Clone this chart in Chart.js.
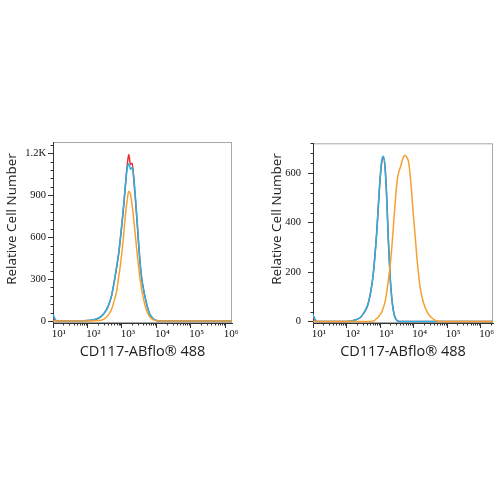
<!DOCTYPE html>
<html>
<head>
<meta charset="utf-8">
<script src="https://cdn.jsdelivr.net/npm/chart.js@4.4.0/dist/chart.umd.min.js"></script>
<style>
  body { margin: 0; background: #fff; }
  .panel { position: absolute; top: 130px; width: 250px; height: 240px; }
</style>
</head>
<body>
<div class="panel" style="left:0"><canvas id="leftChart" width="250" height="240"></canvas></div>
<div class="panel" style="left:250px"><canvas id="rightChart" width="250" height="240"></canvas></div>
<script>
// x axis decades
const decadeValues = [10, 100, 1000, 10000, 100000, 1000000];
const decadeLabels = ['10¹', '10²', '10³', '10⁴', '10⁵', '10⁶'];

// left panel
const leftBins = [10, 13, 32, 100, 158, 200, 251, 316, 398, 501, 631, 708, 794, 891, 1000, 1122, 1259, 1413, 1585, 1778,
    1995, 2239, 2512, 2818, 3162, 3548, 3981, 5012, 6310, 7943, 10000, 15849, 100000, 1000000, 1580000];
const leftRed = [20, 0, 0, 4, 10, 18, 33, 60, 105, 180, 312, 388, 468, 572, 690, 815, 960, 1100, 1190, 1120,
    1128, 1000, 850, 685, 505, 360, 265, 142, 55, 18, 4, 0, 0, 0, 0];
const leftCyan = [45, 0, 0, 3, 10, 18, 33, 60, 105, 180, 315, 390, 470, 575, 695, 820, 965, 1085, 1125, 1085,
    1098, 1020, 860, 688, 505, 360, 265, 142, 55, 18, 4, 0, 0, 0, 0];
const leftOrange = [0, 0, 0, 0, 2, 3, 6, 18, 40, 82, 165, 215, 300, 385, 490, 610, 750, 855, 928, 905,
    825, 712, 590, 470, 360, 265, 190, 88, 33, 10, 3, 0, 0, 0, 0];
const leftYValues = [0, 300, 600, 900, 1200];
const leftYLabels = ['0', '300', '600', '900', '1.2K'];

// right panel
const rightBins = [10, 13, 50, 100, 141, 200, 251, 316, 398, 447, 501, 562, 631, 708, 794, 891, 1000, 1122, 1259, 1413,
    1585, 1778, 1995, 2239, 2512, 2818, 3162, 3548, 3981, 4467, 5012, 5623, 6310, 7079, 7943, 8913, 10000, 11220,
    12589, 14125, 15849, 17783, 19953, 25119, 31623, 39811, 50119, 63096, 100000, 1000000, 2340000];
const rightRed = [15, 0, 0, 0, 2, 8, 15, 31, 55, 75, 105, 143, 195, 270, 358, 468, 570, 642, 662, 625,
    500, 325, 182, 95, 42, 16, 5, 1, 0, 0, 0, 0, 0, 0, 0, 0, 0, 0,
    0, 0, 0, 0, 0, 0, 0, 0, 0, 0, 0, 0, 0];
const rightCyan = [28, 0, 0, 0, 2, 8, 15, 31, 55, 75, 105, 143, 195, 270, 358, 468, 578, 650, 668, 618,
    490, 318, 182, 95, 42, 16, 5, 1, 0, 0, 0, 0, 0, 0, 0, 0, 0, 0,
    0, 0, 0, 0, 0, 0, 0, 0, 0, 0, 0, 0, 0];
const rightOrange = [0, 0, 0, 0, 0, 0, 0, 0, 0, 0, 0, 0, 2, 6, 12, 18, 28, 38, 57, 80,
    120, 168, 225, 298, 387, 478, 557, 600, 620, 645, 665, 672, 663, 645, 590, 508, 420, 342,
    257, 190, 135, 100, 74, 40, 20, 9, 2, 0, 0, 0, 0];
const rightYValues = [0, 200, 400, 600];
const rightYLabels = ['0', '200', '400', '600'];

const boxPlugin = {
    id: 'box',
    beforeDraw(chart) {
        const {ctx, chartArea: a} = chart;
        ctx.save();
        ctx.strokeStyle = '#a8a8a8';
        ctx.lineWidth = 1;
        ctx.strokeRect(a.left + 0.5, a.top + 0.5, a.right - a.left - 1, a.bottom - a.top - 1);
        ctx.restore();
    }
};

// short ticks for the unlabelled values (chart.js only has one tick length)
const minorTickPlugin = {
    id: 'minorTicks',
    afterDraw(chart) {
        const ctx = chart.ctx;
        const xs = chart.scales.x, ys = chart.scales.y;
        ctx.save();
        ctx.strokeStyle = '#333';
        ctx.lineWidth = 1;
        ctx.beginPath();
        xs.ticks.forEach(t => {
            if (t.label) return;
            const px = Math.round(xs.getPixelForValue(t.value)) + 0.5;
            ctx.moveTo(px, xs.top);
            ctx.lineTo(px, xs.top + 2.5);
        });
        ys.ticks.forEach(t => {
            if (t.label) return;
            const py = Math.round(ys.getPixelForValue(t.value)) + 0.5;
            ctx.moveTo(ys.right, py);
            ctx.lineTo(ys.right - 2.5, py);
        });
        ctx.stroke();
        ctx.restore();
    }
};

// y title drawn by hand so it can sit a bit above the middle like the original
const yTitlePlugin = {
    id: 'yTitle',
    afterDraw(chart, args, opts) {
        const ctx = chart.ctx;
        ctx.save();
        ctx.translate(opts.x, opts.y);
        ctx.rotate(-Math.PI / 2);
        ctx.font = '13.5px "Open Sans"';
        ctx.fillStyle = '#222';
        ctx.textAlign = 'center';
        ctx.textBaseline = 'middle';
        ctx.fillText('Relative Cell Number', 0, 0);
        ctx.restore();
    }
};

function series(bins, values) {
    return bins.map((x, i) => ({x: x, y: values[i]}));
}

const majorTickColor = c => (c.tick && c.tick.label ? '#333' : 'rgba(0,0,0,0)');

function makeChart(id, o) {
    const line = (label, values, color) => ({
        label: label,
        data: series(o.bins, values),
        borderColor: color,
        borderWidth: 1.5,
        pointRadius: 0,
        fill: false,
        cubicInterpolationMode: 'monotone'
    });
    new Chart(document.getElementById(id), {
        type: 'line',
        data: {
            datasets: [
                line('orange', o.orange, '#f6a032'),
                line('cyan', o.cyan, '#1eb4e6'),
                line('red', o.red, '#f02a2d')
            ]
        },
        options: {
            responsive: false,
            animation: false,
            layout: {padding: {top: 12, right: o.padRight, left: 0, bottom: 0}},
            plugins: {
                legend: {display: false},
                tooltip: {enabled: false},
                yTitle: {x: o.titleX, y: 89}
            },
            scales: {
                x: {
                    type: 'logarithmic',
                    min: 10,
                    max: o.xMax,
                    border: {color: '#333'},
                    grid: {drawOnChartArea: false, tickLength: 5, tickColor: majorTickColor},
                    ticks: {
                        autoSkip: false,
                        maxRotation: 0,
                        labelOffset: 6,
                        padding: 0,
                        color: '#111',
                        font: {family: 'Liberation Serif', size: 11},
                        callback: function (v) {
                            const i = decadeValues.indexOf(v);
                            return i >= 0 ? decadeLabels[i] : '';
                        }
                    },
                    afterBuildTicks: function (scale) {
                        scale.ticks = scale.ticks.filter(t => {
                            const s = t.value / Math.pow(10, Math.floor(Math.log10(t.value) + 1e-9));
                            return Math.abs(s - Math.round(s)) < 1e-6;
                        });
                    },
                    afterFit: function (scale) { scale.height = 47; },
                    title: {
                        display: true,
                        text: 'CD117-ABflo® 488',
                        color: '#222',
                        font: {family: 'Open Sans', size: 14.5},
                        padding: {top: 0, bottom: 9}
                    }
                },
                y: {
                    min: o.yMin,
                    max: o.yMax,
                    border: {color: '#333'},
                    grid: {drawOnChartArea: false, tickLength: 5, tickColor: majorTickColor},
                    ticks: {
                        stepSize: o.step,
                        includeBounds: false,
                        autoSkip: false,
                        padding: o.yPad,
                        color: '#111',
                        font: {family: 'Liberation Serif', size: 10.5},
                        callback: function (v) {
                            const i = o.yValues.indexOf(v);
                            return i >= 0 ? o.yLabels[i] : '';
                        }
                    },
                    afterFit: function (scale) { scale.width = o.yWidth; }
                }
            }
        },
        plugins: [boxPlugin, minorTickPlugin, yTitlePlugin]
    });
}

makeChart('leftChart', {
    bins: leftBins, red: leftRed, cyan: leftCyan, orange: leftOrange,
    yValues: leftYValues, yLabels: leftYLabels,
    xMax: 1580000, yMin: -14, yMax: 1280, step: 60,
    yWidth: 53, yPad: 2, padRight: 18, titleX: 12.5
});

makeChart('rightChart', {
    bins: rightBins, red: rightRed, cyan: rightCyan, orange: rightOrange,
    yValues: rightYValues, yLabels: rightYLabels,
    xMax: 2340000, yMin: -6, yMax: 720, step: 40,
    yWidth: 63, yPad: 7, padRight: 7, titleX: 27
});
</script>
</body>
</html>
